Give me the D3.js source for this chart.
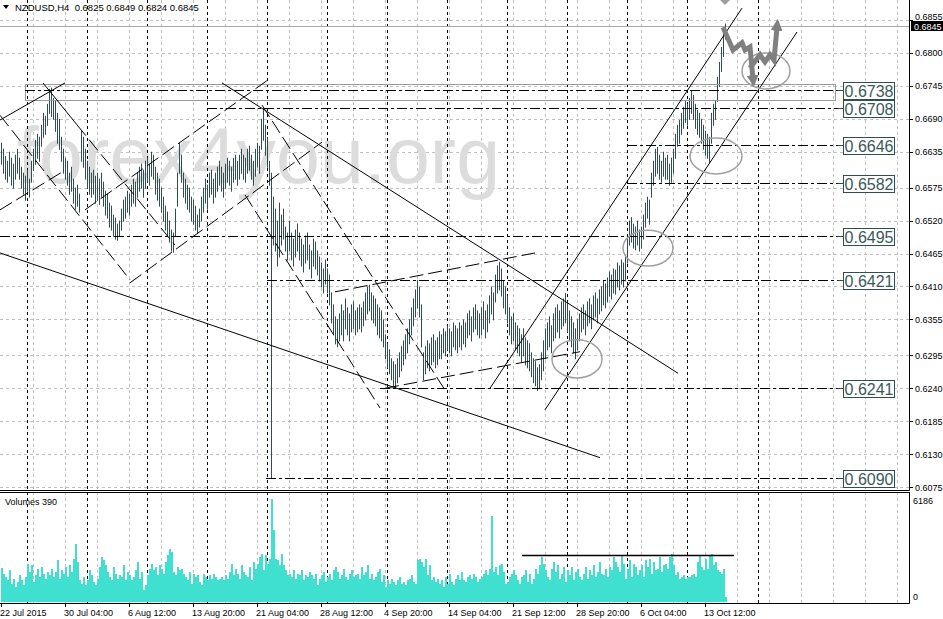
<!DOCTYPE html>
<html><head><meta charset="utf-8">
<title>NZDUSD,H4</title>
<script src="https://d3js.org/d3.v7.min.js"></script>
<style>
body { margin:0; background:#fff; }
svg { display:block; }
text { font-family: "Liberation Sans", Arial, sans-serif; }
</style>
</head>
<body>
<script>

// prices are in pips (x 0.0001), one H4 bar per entry
var barHigh = [
6650,6640,6628,6620,6635,6625,6615,6630,6640,6625,
6610,6600,6595,6605,6590,6620,6640,6655,6665,6660,
6680,6700,6695,6715,6740,6742,6725,6720,6700,6690,
6660,6640,6625,6620,6600,6610,6590,6575,6580,6565,
6670,6660,6640,6620,6610,6600,6605,6595,6600,6590,
6600,6585,6570,6565,6550,6545,6530,6525,6515,6520,
6540,6555,6560,6570,6565,6580,6590,6585,6600,6610,
6615,6605,6620,6625,6615,6635,6630,6610,6600,6590,
6575,6560,6545,6535,6520,6505,6500,6540,6600,6650,
6630,6600,6590,6580,6575,6560,6555,6545,6530,6540,
6560,6575,6590,6580,6600,6605,6590,6600,6610,6620,
6610,6600,6615,6625,6620,6610,6625,6630,6620,6630,
6640,6630,6625,6640,6645,6630,6620,6640,6650,6645,
6690,6708,6680,6660,6620,6600,6560,6540,6520,6550,
6530,6540,6510,6500,6520,6500,6490,6505,6515,6500,
6490,6480,6495,6500,6480,6470,6490,6485,6470,6460,
6450,6440,6455,6440,6430,6400,6380,6360,6355,6365,
6380,6370,6390,6375,6365,6380,6385,6370,6375,6380,
6375,6385,6400,6410,6413,6400,6395,6390,6380,6375,
6370,6355,6330,6315,6305,6290,6285,6280,6290,6300,
6310,6320,6330,6340,6355,6375,6390,6405,6421,6410,
6380,6300,6310,6320,6315,6325,6330,6320,6325,6335,
6330,6340,6335,6345,6340,6335,6350,6345,6340,6350,
6345,6355,6350,6365,6370,6360,6375,6380,6370,6365,
6375,6385,6370,6380,6395,6410,6400,6430,6445,6451,
6440,6420,6410,6395,6375,6360,6365,6350,6345,6340,
6330,6340,6325,6320,6315,6300,6290,6285,6275,6280,
6300,6320,6340,6350,6360,6345,6365,6375,6380,6370,
6385,6390,6399,6385,6370,6360,6350,6340,6355,6365,
6375,6380,6370,6385,6390,6380,6395,6400,6390,6405,
6410,6420,6415,6425,6435,6430,6440,6438,6450,6445,
6455,6450,6460,6490,6520,6526,6515,6510,6520,6505,
6510,6530,6550,6560,6555,6600,6620,6640,6643,6630,
6620,6635,6625,6630,6615,6625,6640,6665,6680,6688,
6700,6710,6720,6715,6725,6738,6730,6715,6705,6700,
6690,6680,6670,6665,6660,6700,6715,6720,6760,6785,
6810,6835,6849];

var barLow = [
6615,6600,6590,6585,6595,6580,6575,6590,6600,6590,
6575,6565,6555,6570,6560,6585,6605,6615,6625,6620,
6645,6660,6665,6680,6700,6695,6690,6670,6650,6640,
6620,6600,6590,6580,6565,6570,6550,6540,6545,6535,
6620,6610,6590,6575,6565,6560,6565,6550,6555,6548,
6560,6545,6530,6525,6510,6505,6495,6490,6488,6495,
6505,6520,6525,6535,6530,6545,6550,6545,6560,6570,
6575,6560,6575,6585,6580,6595,6590,6565,6555,6545,
6535,6520,6505,6495,6485,6470,6468,6495,6545,6600,
6585,6560,6550,6540,6535,6520,6515,6505,6500,6510,
6520,6535,6550,6540,6560,6565,6550,6560,6570,6580,
6570,6560,6575,6585,6580,6570,6585,6590,6580,6590,
6600,6590,6585,6600,6605,6590,6580,6595,6610,6600,
6640,6655,6630,6610,6580,6090,6480,6470,6445,6460,
6480,6490,6470,6455,6470,6455,6445,6460,6470,6455,
6445,6435,6450,6455,6440,6425,6445,6440,6430,6420,
6410,6400,6415,6400,6380,6350,6330,6315,6310,6320,
6330,6320,6340,6330,6320,6335,6340,6330,6335,6340,
6335,6345,6355,6365,6370,6355,6350,6345,6330,6325,
6320,6310,6290,6275,6265,6255,6245,6242,6250,6260,
6270,6280,6290,6300,6315,6330,6345,6360,6375,6360,
6310,6255,6265,6275,6270,6280,6285,6275,6280,6290,
6290,6300,6295,6305,6300,6295,6310,6305,6300,6310,
6305,6315,6310,6325,6330,6320,6335,6340,6330,6325,
6330,6340,6325,6335,6350,6365,6355,6385,6400,6405,
6395,6375,6365,6350,6330,6315,6320,6305,6300,6295,
6285,6295,6280,6275,6270,6260,6250,6245,6237,6240,
6255,6270,6290,6305,6310,6300,6320,6325,6335,6325,
6340,6345,6350,6335,6320,6310,6300,6290,6305,6320,
6335,6340,6330,6345,6350,6340,6355,6360,6350,6365,
6370,6380,6375,6385,6395,6390,6400,6398,6410,6405,
6415,6410,6420,6450,6480,6485,6475,6472,6480,6470,
6475,6490,6510,6525,6515,6560,6580,6595,6600,6590,
6585,6595,6590,6590,6580,6585,6600,6625,6645,6650,
6665,6675,6685,6680,6690,6700,6690,6675,6665,6660,
6650,6640,6630,6625,6618,6650,6680,6690,6720,6745,
6770,6795,6824];

var volumes = [
2050,1700,1500,1300,1900,1100,1400,900,1200,1600,
1300,1000,1500,2300,1800,2200,1200,1600,2000,1500,
2100,1700,1400,1800,1600,2000,1500,1800,2500,1400,
1900,1700,2100,1500,2200,1800,2600,3500,2400,1300,
1100,1500,1000,1300,1900,1600,1200,1000,1400,2100,
2700,2500,2200,1800,1500,1300,2100,1700,1400,1600,
1500,2200,1300,1800,1600,1300,1500,1900,2400,1400,
1800,700,1000,1600,2000,2300,1900,2100,1600,2200,
2000,1700,2400,2800,3200,3000,1800,1600,2100,1900,
2000,1700,1500,1300,1800,1100,1700,1500,1600,1200,
1000,1700,1500,1300,1600,1400,1700,1500,1300,1400,
1500,1300,1600,1400,1800,2300,1600,2000,1700,1400,
2200,1800,1600,1500,2100,1300,2400,2000,2300,2700,
2900,1900,2800,2300,2600,6186,4300,2600,2500,2200,
2900,2200,1900,1600,1700,1500,1900,1400,1700,1600,
1900,1300,1600,1500,1800,1600,1400,1700,1000,1400,
1600,1800,1200,1500,1700,1300,1900,2100,1800,1400,
1600,2000,1500,1300,1700,1900,1500,1600,1700,1400,
2100,1600,1800,2200,1400,1700,1300,1500,1800,2000,
1200,1600,900,1300,1100,1400,1200,1000,1300,1500,
1100,1200,1000,1300,1400,1600,1200,1100,2500,2600,
2400,2100,2600,1600,2200,1300,1500,1200,1400,1100,
1300,900,1500,1100,1700,1200,1000,1400,1600,1300,
1800,1300,1200,1500,1600,1400,1700,1500,1200,1400,
1500,1700,1900,1600,2000,5180,1800,2100,1600,2200,
2300,1800,1100,1200,1500,1700,1900,1600,1300,1100,
1500,1600,1900,1200,1700,1100,1400,2000,1700,2200,
2700,2300,1900,1500,1300,2000,2400,1800,2200,1400,
1700,2100,1200,1900,1600,2100,1300,1800,2000,1500,
1300,1700,2100,1400,1900,1600,2200,1500,1800,2400,
1700,1600,2000,1500,2100,1900,2700,2400,2100,1800,
2750,2300,1400,2000,2500,1500,2300,2100,1600,1900,
2200,1500,2500,2100,2600,1700,2400,1900,2000,2700,
1800,2200,2300,2000,2700,2900,2200,1600,1800,1400,
1500,1600,1400,1500,1500,1600,1700,1500,2400,2800,
2100,1900,2600,2000,2800,2900,2200,2400,1900,1800,
1700,2000,300];

var priceTicks = ["0.6855","0.6800","0.6745","0.6690","0.6635","0.6575","0.6520","0.6465",
                  "0.6410","0.6355","0.6295","0.6240","0.6185","0.6130","0.6075"];
var volTicks = ["6186", "0"];
var dateLabels = ["22 Jul 2015","30 Jul 04:00","6 Aug 12:00","13 Aug 20:00","21 Aug 04:00","28 Aug 12:00",
                  "4 Sep 20:00","14 Sep 04:00","21 Sep 12:00","28 Sep 20:00","6 Oct 04:00","13 Oct 12:00"];
var dateBars = [0,32,64,96,128,160,192,224,256,288,320,352];
var weekSeps = [13,43,73,103,133,163,193,223,253,283,313,343,378.5];

var levels = [0.6738, 0.6708, 0.6646, 0.6582, 0.6495, 0.6421, 0.6241, 0.6090];
var levelStart = [12, 103, 313, 313, -0.5, 133, 189.5, 132.5];
var lastPrice = 0.6845;
var header = "NZDUSD,H4  0.6825 0.6849 0.6824 0.6845";

// drawn objects, endpoints as [bar, price]
var solidLines = [
	[[-0.5,0.6466],[299.5,0.6124]],
	[[110.5,0.6750],[338.5,0.6265]],
	[[244.5,0.6240],[370.5,0.6875]],
	[[272,0.6204],[398,0.6835]],
	[[-0.5,0.6688],[32,0.6750]],
	[[21,0.6750],[38,0.6680]]
];
var dashedLines = [
	[[-0.5,0.6696],[64.5,0.6421]],
	[[38,0.6680],[87,0.6479]],
	[[-0.5,0.6538],[30.5,0.6601]],
	[[64.5,0.6416],[160.5,0.6651]],
	[[42,0.6538],[133.5,0.6755]],
	[[130.5,0.6713],[222,0.6237]],
	[[122,0.6563],[189.5,0.6207]],
	[[167,0.6401],[267,0.6466]],
	[[192,0.6240],[289.5,0.6301]]
];
var zone = [[12,0.6748],[417,0.6722]];
var ellipses = [[288,0.6289,12.5,0.0032],[323.5,0.6474,12.5,0.0030],[357.5,0.6628,13,0.0030],[382.5,0.6770,12,0.0030]];
var forecast = [
	[[361,0.6843],[366,0.6805],[370.5,0.6817],[372,0.6805],[374.5,0.6810],[376,0.6757]],
	[[374.5,0.6775],[379.5,0.6797],[382,0.6785],[384.5,0.6797],[386.5,0.6788],[388,0.6843]]
];
var volLine = [[260.5,2820],[366.5,2820]];

var width = 943, height = 619;
var plotR = 909, priceB = 490, volT = 492, volB = 603;

var x = d3.scaleLinear().domain([0, 454]).range([1, 909]);
var y = d3.scaleLinear().domain([0.6070, 0.68885]).range([490, 0]);
var yv = d3.scaleLinear().domain([0, 6186]).range([602, 499]);
function pip(v) { return v / 10000; }
function cx(v) { return Math.round(x(v)) + 0.5; }
function cy(v) { return Math.round(y(v)) + 0.5; }

var svg = d3.select("body").append("svg").attr("width", width).attr("height", height);
var defs = svg.append("defs");
defs.append("clipPath").attr("id", "clipP").append("rect").attr("x", 0).attr("y", 0).attr("width", plotR).attr("height", priceB);
defs.append("clipPath").attr("id", "clipV").append("rect").attr("x", 0).attr("y", volT).attr("width", plotR).attr("height", volB - volT);
defs.append("marker").attr("id", "ah")
	.attr("viewBox", "0 0 10 10").attr("refX", 3).attr("refY", 5)
	.attr("markerWidth", 2.4).attr("markerHeight", 2.4).attr("orient", "auto")
	.append("path").attr("d", "M0,0L10,5L0,10z").attr("fill", "#808080");

var P = svg.append("g").attr("clip-path", "url(#clipP)");
var V = svg.append("g").attr("clip-path", "url(#clipV)");

// grid
var gridBars = d3.range(16, 454, 16);
[P, V].forEach(function(g, k) {
	g.append("g").selectAll("line").data(gridBars).enter().append("line")
		.attr("x1", cx).attr("x2", cx)
		.attr("y1", k ? volT : 0).attr("y2", k ? volB : priceB)
		.attr("stroke", "#c0c0c0").attr("stroke-dasharray", "3,3");
});
P.append("g").selectAll("line").data(priceTicks).enter().append("line")
	.attr("x1", 0).attr("x2", plotR)
	.attr("y1", function(d) { return cy(+d); }).attr("y2", function(d) { return cy(+d); })
	.attr("stroke", "#c0c0c0").attr("stroke-dasharray", "3,3");

// watermark
P.append("text").attr("x", 17).attr("y", 183)
	.attr("font-size", 79).attr("fill", "#dcdcdc")
	.text("forex4you.org");

// week separators
[P, V].forEach(function(g, k) {
	g.append("g").selectAll("line").data(weekSeps).enter().append("line")
		.attr("x1", cx).attr("x2", cx)
		.attr("y1", k ? volT : 0).attr("y2", k ? volB : priceB)
		.attr("stroke", "#000").attr("stroke-dasharray", "3,3");
});

// current price line
P.append("line").attr("x1", 0).attr("x2", plotR)
	.attr("y1", cy(lastPrice)).attr("y2", cy(lastPrice))
	.attr("stroke", "#a8a8a8");

// price bars
P.append("g").selectAll("line").data(barHigh).enter().append("line")
	.attr("x1", function(d, i) { return cx(i); })
	.attr("x2", function(d, i) { return cx(i); })
	.attr("y1", function(d) { return y(pip(d)); })
	.attr("y2", function(d, i) { return y(pip(barLow[i])) + 1; })
	.attr("stroke", "#2f4f4f").attr("stroke-width", 1);

// zone rectangle
P.append("rect")
	.attr("x", cx(zone[0][0])).attr("y", cy(zone[0][1]))
	.attr("width", cx(zone[1][0]) - cx(zone[0][0]))
	.attr("height", cy(zone[1][1]) - cy(zone[0][1]))
	.attr("fill", "none").attr("stroke", "#999");

// levels
P.append("g").selectAll("line").data(levels).enter().append("line")
	.attr("x1", function(d, i) { return x(levelStart[i]); })
	.attr("x2", 843)
	.attr("y1", function(d) { return cy(d); }).attr("y2", function(d) { return cy(d); })
	.attr("stroke", "#000").attr("stroke-dasharray", "10,3,3,3");

var lineGen = d3.line().x(function(d) { return x(d[0]); }).y(function(d) { return y(d[1]); });

P.append("g").selectAll("path").data(solidLines).enter().append("path")
	.attr("d", lineGen).attr("fill", "none").attr("stroke", "#000").attr("stroke-width", 1);
P.append("g").selectAll("path").data(dashedLines).enter().append("path")
	.attr("d", lineGen).attr("fill", "none").attr("stroke", "#000").attr("stroke-width", 1)
	.attr("stroke-dasharray", "14,5");

P.append("g").selectAll("ellipse").data(ellipses).enter().append("ellipse")
	.attr("cx", function(d) { return x(d[0]); })
	.attr("cy", function(d) { return y(d[1]); })
	.attr("rx", function(d) { return x(d[0] + d[2]) - x(d[0]); })
	.attr("ry", function(d) { return y(d[1] - d[3]) - y(d[1]); })
	.attr("fill", "none").attr("stroke", "#a0a0a0").attr("stroke-width", 1.5);

svg.append("g").selectAll("path").data(forecast).enter().append("path")
	.attr("d", lineGen).attr("fill", "none").attr("stroke", "#808080")
	.attr("stroke-width", 5).attr("stroke-linejoin", "miter")
	.attr("marker-end", "url(#ah)");
svg.append("path").attr("d", "M720,0L730,0L725,5Z").attr("fill", "#a0a0a0");

// level labels
var lab = svg.append("g").selectAll("g").data(levels).enter().append("g")
	.attr("transform", function(d) { return "translate(843.5," + (Math.round(y(d)) - 8 + 0.5) + ")"; });
lab.append("line").attr("x1", -6).attr("x2", 0).attr("y1", 8).attr("y2", 8).attr("stroke", "#2f4f4f");
lab.append("rect").attr("width", 51).attr("height", 17)
	.attr("fill", "#fff").attr("stroke", "#2f4f4f");
lab.append("text").attr("x", 25.5).attr("y", 14.5).attr("text-anchor", "middle")
	.attr("font-size", 16).attr("fill", "#3a5a5a")
	.text(function(d) { return d.toFixed(4); });

// volumes
V.append("g").selectAll("rect").data(volumes).enter().append("rect")
	.attr("x", function(d, i) { return x(i) - 0.5; })
	.attr("width", 2)
	.attr("y", function(d) { return yv(d); })
	.attr("height", function(d) { return 602 - yv(d); })
	.attr("fill", "#40e0d0").attr("shape-rendering", "crispEdges");
V.append("line")
	.attr("x1", x(volLine[0][0])).attr("x2", x(volLine[1][0]))
	.attr("y1", Math.round(yv(volLine[0][1])) + 0.5).attr("y2", Math.round(yv(volLine[1][1])) + 0.5)
	.attr("stroke", "#000").attr("stroke-width", 1.5);

// frames
var fr = svg.append("g").attr("stroke", "#000").attr("fill", "none");
fr.append("line").attr("x1", 0).attr("x2", plotR + 0.5).attr("y1", priceB + 0.5).attr("y2", priceB + 0.5);
fr.append("line").attr("x1", 0).attr("x2", plotR + 0.5).attr("y1", volT + 0.5).attr("y2", volT + 0.5);
fr.append("line").attr("x1", 0).attr("x2", plotR + 0.5).attr("y1", volB + 0.5).attr("y2", volB + 0.5);
fr.append("line").attr("x1", plotR + 0.5).attr("x2", plotR + 0.5).attr("y1", 0).attr("y2", priceB + 0.5);
fr.append("line").attr("x1", plotR + 0.5).attr("x2", plotR + 0.5).attr("y1", volT).attr("y2", volB + 0.5);

// price axis (top label sits just above the current-price box)
var pa = svg.append("g");
pa.selectAll("line").data(priceTicks).enter().append("line")
	.attr("x1", plotR + 1).attr("x2", plotR + 4)
	.attr("y1", function(d) { return cy(+d); }).attr("y2", function(d) { return cy(+d); })
	.attr("stroke", "#000");
pa.selectAll("text").data(priceTicks).enter().append("text")
	.attr("x", 915).attr("y", function(d, i) { return i ? y(+d) + 3.5 : 19.5; })
	.attr("font-size", 9).attr("fill", "#000")
	.text(function(d) { return d; });
pa.append("rect").attr("x", 911).attr("y", Math.round(y(lastPrice)) - 5).attr("width", 32).attr("height", 10).attr("fill", "#000");
pa.append("text").attr("x", 914).attr("y", y(lastPrice) + 3.5)
	.attr("font-size", 9).attr("fill", "#fff").text(lastPrice.toFixed(4));

// volume axis
svg.append("g").selectAll("text").data(volTicks).enter().append("text")
	.attr("x", 913).attr("y", function(d) { return yv(+d) + (+d ? 5 : -2); })
	.attr("font-size", 9).attr("fill", "#000")
	.text(function(d) { return d; });

// time axis
var ta = svg.append("g");
ta.selectAll("line").data(dateBars).enter().append("line")
	.attr("x1", cx).attr("x2", cx).attr("y1", volB + 1).attr("y2", volB + 4)
	.attr("stroke", "#000");
ta.selectAll("text").data(dateLabels).enter().append("text")
	.attr("x", function(d, i) { return i ? x(dateBars[i]) - 1 : 0; })
	.attr("y", 616)
	.attr("font-size", 9).attr("fill", "#000")
	.text(function(d) { return d; });

// header and panel titles
svg.append("path").attr("d", "M3,5L9,5L6,9Z").attr("fill", "#000");
svg.append("text").attr("x", 15).attr("y", 11).attr("font-size", 9.5).attr("fill", "#000")
	.attr("xml:space", "preserve").style("white-space", "pre").text(header);
svg.append("text").attr("x", 5).attr("y", 505).attr("font-size", 9).attr("fill", "#000").text("Volumes 390");

</script>
</body></html>
